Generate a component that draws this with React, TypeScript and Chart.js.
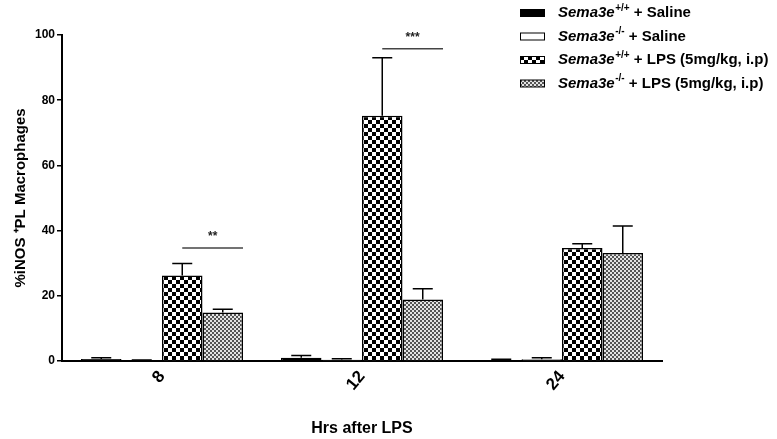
import React, { useEffect, useRef } from 'react';
import { Chart, registerables } from 'chart.js';

Chart.register(...registerables);

// Hours after LPS injection
const hours = ['8', '12', '24'];

// %iNOS+ peritoneal macrophages (mean) and upper SEM for each group
const wtSaline = [0.6, 1.0, 0.3];
const wtSalineErr = [0.4, 0.7, 0.2];
const koSaline = [0.2, 0.4, 0.5];
const koSalineErr = [0.1, 0.3, 0.5];
const wtLps = [26.2, 75.2, 34.7];
const wtLpsErr = [3.7, 17.8, 1.3];
const koLps = [14.9, 18.9, 33.1];
const koLpsErr = [1.0, 3.3, 8.3];

// Significance brackets: which hour, bracket height (axis units), label
const sigHours = ['8', '12'];
const sigLevels = [34.7, 95.8];
const sigLabels = ['**', '***'];

const FONT = '"Liberation Sans", Arial, Helvetica, sans-serif';

function checker(size: number, ink: string, paper: string): CanvasPattern | string {
  const c = document.createElement('canvas');
  c.width = size * 2;
  c.height = size * 2;
  const g = c.getContext('2d');
  if (!g) return ink;
  g.fillStyle = paper;
  g.fillRect(0, 0, size * 2, size * 2);
  g.fillStyle = ink;
  g.fillRect(0, 0, size, size);
  g.fillRect(size, size, size, size);
  return g.createPattern(c, 'repeat') || ink;
}

export default function App() {
  const ref = useRef<HTMLCanvasElement>(null);

  useEffect(() => {
    const canvas = ref.current;
    if (!canvas) return;

    const bigCheck = checker(4, '#000', '#fff');
    const fineCheck = checker(2, '#555', '#e4e4e4');

    const fills: any[] = ['#000', '#fff', bigCheck, fineCheck];
    const errs = [wtSalineErr, koSalineErr, wtLpsErr, koLpsErr];
    const genotypes = ['+/+', '-/-', '+/+', '-/-'];
    const treatments = [' + Saline', ' + Saline', ' + LPS (5mg/kg, i.p)', ' + LPS (5mg/kg, i.p)'];

    const errorBars = {
      id: 'errorBars',
      afterDatasetsDraw(chart: any) {
        const { ctx } = chart;
        const y = chart.scales.y;
        ctx.save();
        ctx.strokeStyle = '#000';
        ctx.lineWidth = 1.5;
        chart.data.datasets.forEach((ds: any, i: number) => {
          const meta = chart.getDatasetMeta(i);
          meta.data.forEach((el: any, j: number) => {
            const top = y.getPixelForValue(ds.data[j] + errs[i][j]);
            ctx.beginPath();
            ctx.moveTo(el.x, el.y);
            ctx.lineTo(el.x, top);
            ctx.moveTo(el.x - 10, top);
            ctx.lineTo(el.x + 10, top);
            ctx.stroke();
          });
        });
        ctx.restore();
      },
    };

    const significance = {
      id: 'significance',
      afterDatasetsDraw(chart: any) {
        const { ctx } = chart;
        const y = chart.scales.y;
        const lpsWt = chart.getDatasetMeta(2);
        const lpsKo = chart.getDatasetMeta(3);
        ctx.save();
        sigHours.forEach((h, k) => {
          const idx = hours.indexOf(h);
          const a = lpsWt.data[idx];
          const b = lpsKo.data[idx];
          const x0 = a.x;
          const x1 = b.x + b.width / 2;
          const py = y.getPixelForValue(sigLevels[k]);
          ctx.strokeStyle = '#444';
          ctx.lineWidth = 1.5;
          ctx.beginPath();
          ctx.moveTo(x0, py);
          ctx.lineTo(x1, py);
          ctx.stroke();
          ctx.fillStyle = '#222';
          ctx.font = `bold 12px ${FONT}`;
          ctx.textAlign = 'center';
          ctx.textBaseline = 'middle';
          ctx.fillText(sigLabels[k], (x0 + x1) / 2, py - 11);
        });
        ctx.restore();
      },
    };

    const legend = {
      id: 'groupLegend',
      afterDraw(chart: any) {
        const { ctx } = chart;
        ctx.save();
        const bx = 520;
        const tx = 558;
        const y0 = 13;
        const step = 23.5;
        fills.forEach((f, i) => {
          const cy = y0 + i * step;
          ctx.fillStyle = f;
          ctx.fillRect(bx, cy - 3.5, 25, 7);
          ctx.strokeStyle = '#000';
          ctx.lineWidth = 1;
          ctx.strokeRect(bx + 0.5, cy - 3.5, 24, 7);

          ctx.fillStyle = '#000';
          ctx.textAlign = 'left';
          ctx.textBaseline = 'middle';
          let x = tx;
          ctx.font = `italic bold 15px ${FONT}`;
          ctx.fillText('Sema3e', x, cy);
          x += ctx.measureText('Sema3e').width + 0.5;
          ctx.font = `bold 10px ${FONT}`;
          ctx.fillText(genotypes[i], x, cy - 5);
          x += ctx.measureText(genotypes[i]).width;
          ctx.font = `bold 15px ${FONT}`;
          ctx.fillText(treatments[i], x, cy);
        });
        ctx.restore();
      },
    };

    const chart = new Chart(canvas, {
      type: 'bar',
      data: {
        labels: hours,
        datasets: [
          { label: 'Sema3e+/+ + Saline', data: wtSaline },
          { label: 'Sema3e-/- + Saline', data: koSaline },
          { label: 'Sema3e+/+ + LPS (5mg/kg, i.p)', data: wtLps },
          { label: 'Sema3e-/- + LPS (5mg/kg, i.p)', data: koLps },
        ].map((d, i) => ({
          ...d,
          backgroundColor: fills[i],
          borderColor: '#000',
          borderWidth: 1.5,
          categoryPercentage: 0.81,
          barPercentage: 1.0,
        })),
      },
      options: {
        responsive: false,
        animation: false,
        layout: { padding: { left: 0, top: 35, right: 115, bottom: 0 } },
        plugins: {
          legend: { display: false },
          tooltip: { enabled: false },
        },
        scales: {
          x: {
            grid: { display: false },
            border: { color: '#000', width: 2 },
            ticks: {
              color: '#000',
              font: { family: FONT, size: 17, weight: 'bold' },
              minRotation: 50,
              maxRotation: 50,
              padding: -2,
            },
            title: {
              display: true,
              text: 'Hrs after LPS',
              color: '#000',
              font: { family: FONT, size: 16, weight: 'bold' },
              padding: { top: 0, bottom: 1 },
            },
            afterFit: (s: any) => {
              s.height = 78;
            },
          },
          y: {
            min: 0,
            max: 100,
            grid: {
              drawOnChartArea: false,
              drawTicks: true,
              tickLength: 5,
              color: '#000',
              lineWidth: 1.5,
            },
            border: { color: '#000', width: 2 },
            ticks: {
              stepSize: 20,
              color: '#000',
              padding: 2,
              font: { family: FONT, size: 12, weight: 'bold' },
            },
            title: {
              display: true,
              text: '%iNOS ⁺PL Macrophages',
              color: '#000',
              font: { family: FONT, size: 15, weight: 'bold' },
              padding: { top: 12, bottom: 0 },
            },
            afterFit: (s: any) => {
              s.width = 62;
            },
          },
        },
      },
      plugins: [errorBars, significance, legend],
    });

    return () => chart.destroy();
  }, []);

  return (
    <div style={{ position: 'absolute', left: 0, top: 0, width: 777, height: 439, background: '#fff' }}>
      <canvas ref={ref} width={777} height={439} />
    </div>
  );
}
